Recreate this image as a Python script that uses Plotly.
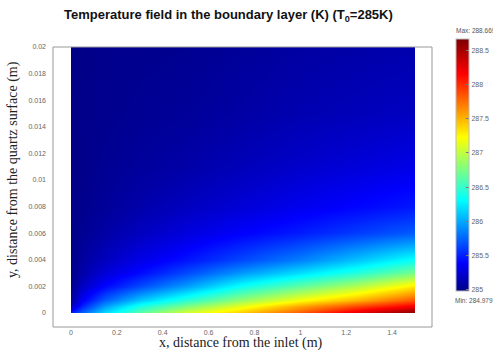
import plotly.graph_objects as go

# Grid positions (m)
x_pos = [0.0, 0.05, 0.15, 0.3, 0.5, 0.75, 1.0, 1.25, 1.5]
y_pos = [0.0, 0.0005, 0.001, 0.002, 0.003, 0.004, 0.006, 0.008, 0.011, 0.015, 0.02]

# Temperature (K) read at each x position, listed from y=0 upward
temp_x000 = [285.50, 285.15, 285.05, 284.99, 284.98, 284.98, 284.98, 284.98, 284.98, 284.98, 284.98]
temp_x005 = [285.75, 285.50, 285.35, 285.18, 285.10, 285.06, 285.02, 285.00, 284.99, 284.99, 284.98]
temp_x015 = [286.20, 285.95, 285.72, 285.40, 285.25, 285.17, 285.08, 285.04, 285.02, 285.00, 285.00]
temp_x030 = [286.65, 286.40, 286.10, 285.65, 285.42, 285.30, 285.17, 285.10, 285.05, 285.02, 285.00]
temp_x050 = [287.10, 286.75, 286.45, 285.95, 285.65, 285.45, 285.27, 285.17, 285.09, 285.04, 285.01]
temp_x075 = [287.45, 287.15, 286.85, 286.35, 285.95, 285.65, 285.38, 285.25, 285.15, 285.08, 285.04]
temp_x100 = [287.85, 287.55, 287.20, 286.65, 286.20, 285.85, 285.48, 285.33, 285.21, 285.12, 285.07]
temp_x125 = [288.30, 287.90, 287.50, 286.95, 286.45, 286.10, 285.60, 285.40, 285.26, 285.15, 285.09]
temp_x150 = [288.67, 288.20, 287.85, 287.30, 286.75, 286.35, 285.72, 285.47, 285.31, 285.18, 285.11]

columns = [temp_x000, temp_x005, temp_x015, temp_x030, temp_x050,
           temp_x075, temp_x100, temp_x125, temp_x150]
z = [[col[j] for col in columns] for j in range(len(y_pos))]

t_min = 284.979
t_max = 288.669
x_ticks = [0, 0.2, 0.4, 0.6, 0.8, 1, 1.2, 1.4]
x_tick_text = ["0", "0.2", "0.4", "0.6", "0.8", "1", "1.2", "1.4"]
y_ticks = [0, 0.002, 0.004, 0.006, 0.008, 0.01, 0.012, 0.014, 0.016, 0.018, 0.02]
y_tick_text = ["0", "0.002", "0.004", "0.006", "0.008", "0.01", "0.012", "0.014", "0.016", "0.018", "0.02"]
cb_ticks = [285, 285.5, 286, 286.5, 287, 287.5, 288, 288.5]
cb_tick_text = ["285", "285.5", "286", "286.5", "287", "287.5", "288", "288.5"]

jet = [[0.0, "rgb(0,0,135)"], [0.11, "rgb(0,0,255)"], [0.36, "rgb(0,255,255)"],
       [0.61, "rgb(255,255,0)"], [0.86, "rgb(255,0,0)"], [1.0, "rgb(128,0,0)"]]

W, H = 493, 354
def px(v): return v / W
def py(v): return (H - v) / H

fig = go.Figure()
fig.add_trace(go.Heatmap(
    x=x_pos, y=y_pos, z=z, zsmooth="best", colorscale=jet,
    zmin=t_min, zmax=t_max,
    colorbar=dict(
        x=px(456), xanchor="left", y=py(291), yanchor="bottom",
        len=(291 - 39) / H, lenmode="fraction", thickness=13, thicknessmode="pixels",
        outlinewidth=1, outlinecolor="#bbbbbb",
        tickvals=cb_ticks, ticktext=cb_tick_text, ticks="inside", ticklen=3,
        tickcolor="#777777", tickfont=dict(family="Liberation Sans", size=7, color="#666666"),
        xpad=0, ypad=0,
    ),
))

def note(text, x, y, size, family, color, angle=0, xanchor="center"):
    return dict(text=text, xref="paper", yref="paper", x=px(x), y=py(y),
                xanchor=xanchor, yanchor="middle", showarrow=False, textangle=angle,
                font=dict(family=family, size=size, color=color))

fig.update_layout(
    width=W, height=H, margin=dict(l=0, r=0, t=0, b=0, autoexpand=False),
    paper_bgcolor="white", plot_bgcolor="white",
    xaxis=dict(domain=[px(71), px(415)], range=[0, 1.5], showgrid=False, zeroline=False,
               showline=False, tickvals=x_ticks, ticktext=x_tick_text, ticks="",
               ticklabelstandoff=14, automargin=False,
               tickfont=dict(family="Liberation Sans", size=7, color="#666666")),
    yaxis=dict(domain=[py(313), py(47)], range=[0, 0.02], showgrid=False, zeroline=False,
               showline=False, tickvals=y_ticks, ticktext=y_tick_text, ticks="",
               ticklabelstandoff=24, automargin=False,
               tickfont=dict(family="Liberation Sans", size=7, color="#666666")),
    shapes=[dict(type="rect", xref="paper", yref="paper",
                 x0=px(53), x1=px(432), y0=py(327), y1=py(47),
                 line=dict(color="#999999", width=1), layer="above")],
    annotations=[
        note("<b>Temperature field in the boundary layer (K) (T<sub>0</sub>=285K)</b>",
             228, 15, 13, "Liberation Sans", "#111111"),
        note("x, distance from the inlet (m)", 241, 343, 14, "Liberation Serif", "#222222"),
        note("y, distance from the quartz surface (m)", 13, 170, 14, "Liberation Serif",
             "#222222", angle=-90),
        note("Max: 288.669", 454, 30, 6.5, "Liberation Sans", "#555555", xanchor="left"),
        note("Min: 284.979", 453, 300, 6.5, "Liberation Sans", "#555555", xanchor="left"),
    ],
)

fig.write_html("out.html", config={"displayModeBar": False},
               post_script="document.body.style.margin='0';")
